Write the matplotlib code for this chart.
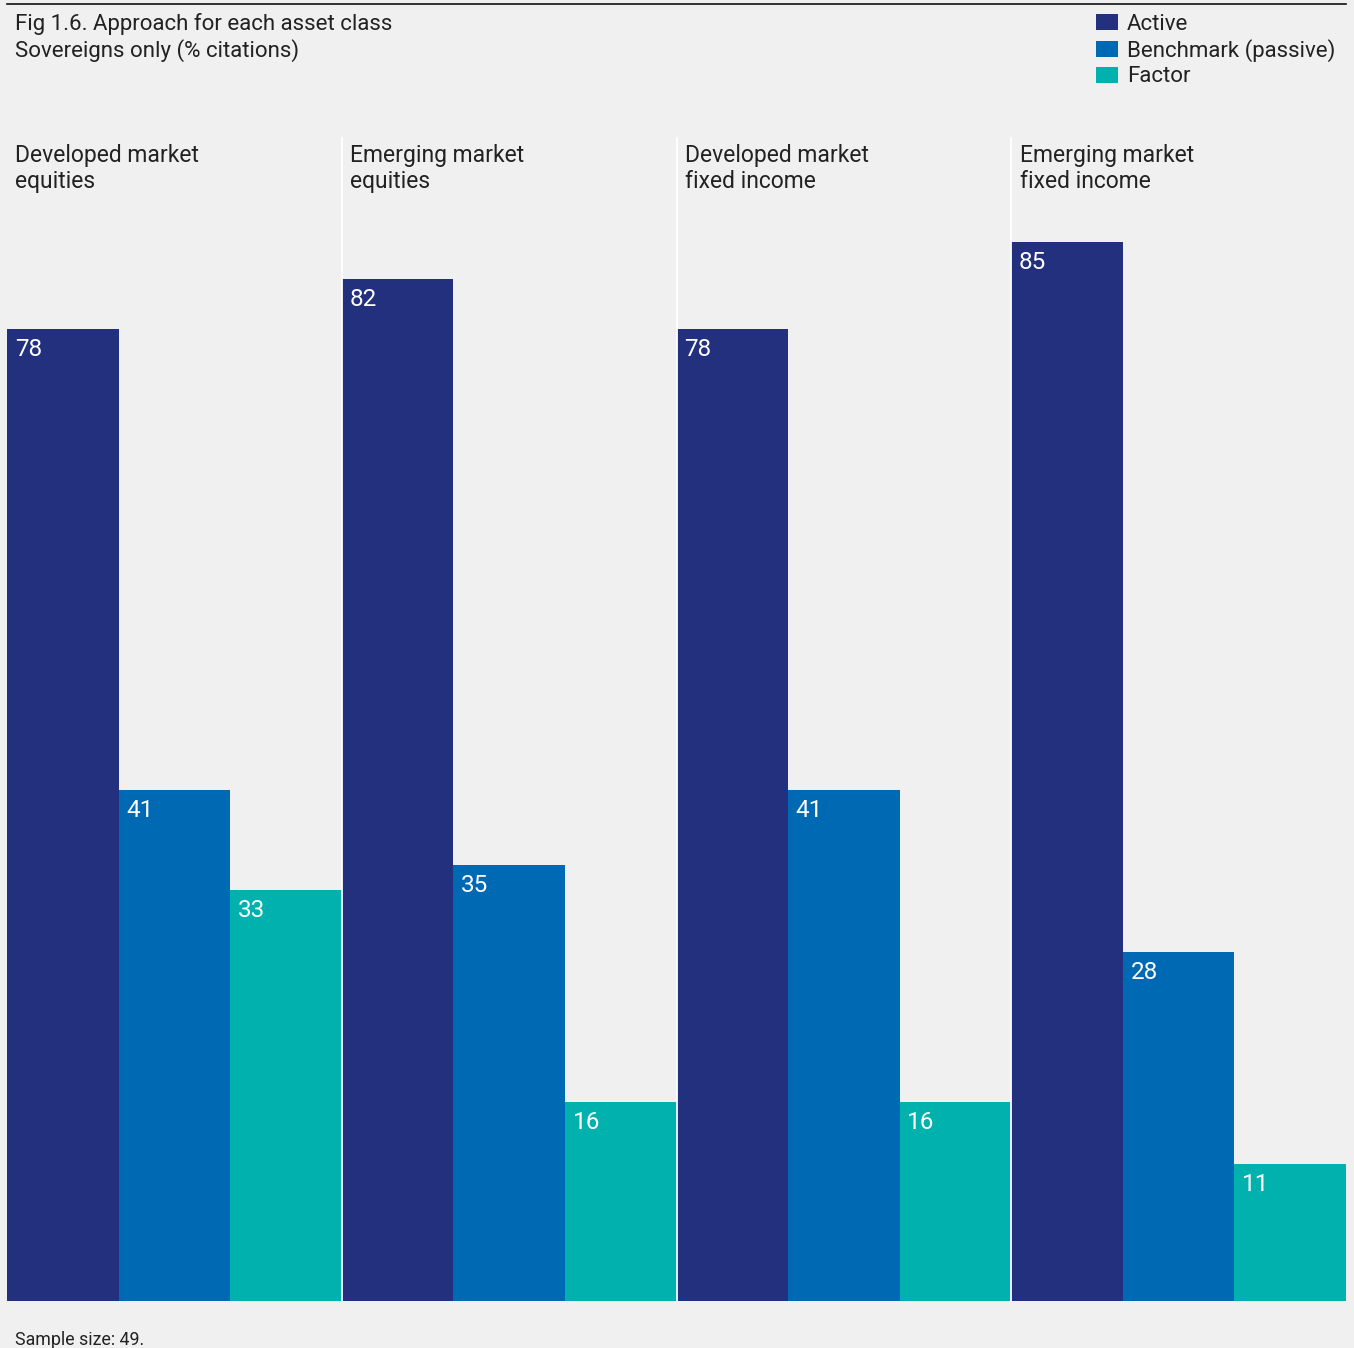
import matplotlib.pyplot as plt
from matplotlib.lines import Line2D
from matplotlib.patches import Rectangle
import numpy as np

plt.rcParams['font.family'] = ['Roboto', 'DejaVu Sans']

categories = ['Developed market\nequities', 'Emerging market\nequities',
              'Developed market\nfixed income', 'Emerging market\nfixed income']
series = ['Active', 'Benchmark (passive)', 'Factor']
active = [78, 82, 78, 85]
benchmark = [41, 35, 41, 28]
factor = [33, 16, 16, 11]
colors = ['#23307e', '#0069b4', '#00b1ae']
bg = '#f0f0f0'

fig = plt.figure(figsize=(13.54, 13.48), dpi=100, facecolor=bg)
W, H = 1354, 1348
# axes: x from 7 to 1346 px, zero at y=1301 px, 12.46 px per unit
y0 = 1301
top_val = 100
ax = fig.add_axes([7 / W, (H - y0) / H, (1346 - 7) / W, top_val * 12.46 / H])
ax.set_facecolor(bg)
ax.set_xlim(-0.5, 3.5)
ax.set_ylim(0, top_val)
ax.axis('off')

x = np.arange(len(categories))
w = 1 / 3
for k, vals in enumerate([active, benchmark, factor]):
    xs = x - w + k * w
    ax.bar(xs, vals, width=w, color=colors[k], linewidth=0, zorder=2)
    for xi, v in zip(xs, vals):
        ax.annotate(str(v), (xi - w / 2, v), xytext=(5.5, -6.5), textcoords='offset points',
                    ha='left', va='top', color='white', fontsize=17.5, zorder=3)

# white separators between groups
div_top = (y0 - 137) / 12.46
ax.vlines([0.5, 1.5, 2.5], 0, div_top, color='white', linewidth=1.3, zorder=3)

for xi, c in zip(x, categories):
    ax.annotate(c, (xi - 0.5, div_top), xytext=(6, -5), textcoords='offset points',
                ha='left', va='top', fontsize=16.5, color='#222222', linespacing=1.15)

# top rule
fig.add_artist(Line2D([7 / W, 1346 / W], [1 - 4 / H, 1 - 4 / H], color='#111111', linewidth=1.2))

fig.text(15 / W, 1 - 13 / H, 'Fig 1.6. Approach for each asset class\nSovereigns only (% citations)',
         ha='left', va='top', fontsize=16, color='#222222', linespacing=1.2)
fig.text(15 / W, 1 - 1331 / H, 'Sample size: 49.', ha='left', va='top', fontsize=12.8, color='#222222')

# legend, drawn by hand to keep even row spacing
for i, (name, c) in enumerate(zip(series, colors)):
    yc = 22 + i * 26.5
    fig.add_artist(Rectangle((1096 / W, 1 - (yc + 8) / H), 22 / W, 16 / H,
                             transform=fig.transFigure, facecolor=c, edgecolor='none'))
    fig.text(1127 / W, 1 - (yc + 2) / H, name, ha='left', va='center', fontsize=16,
             color='#222222')

fig.savefig('out.png', dpi=100, facecolor=bg)
